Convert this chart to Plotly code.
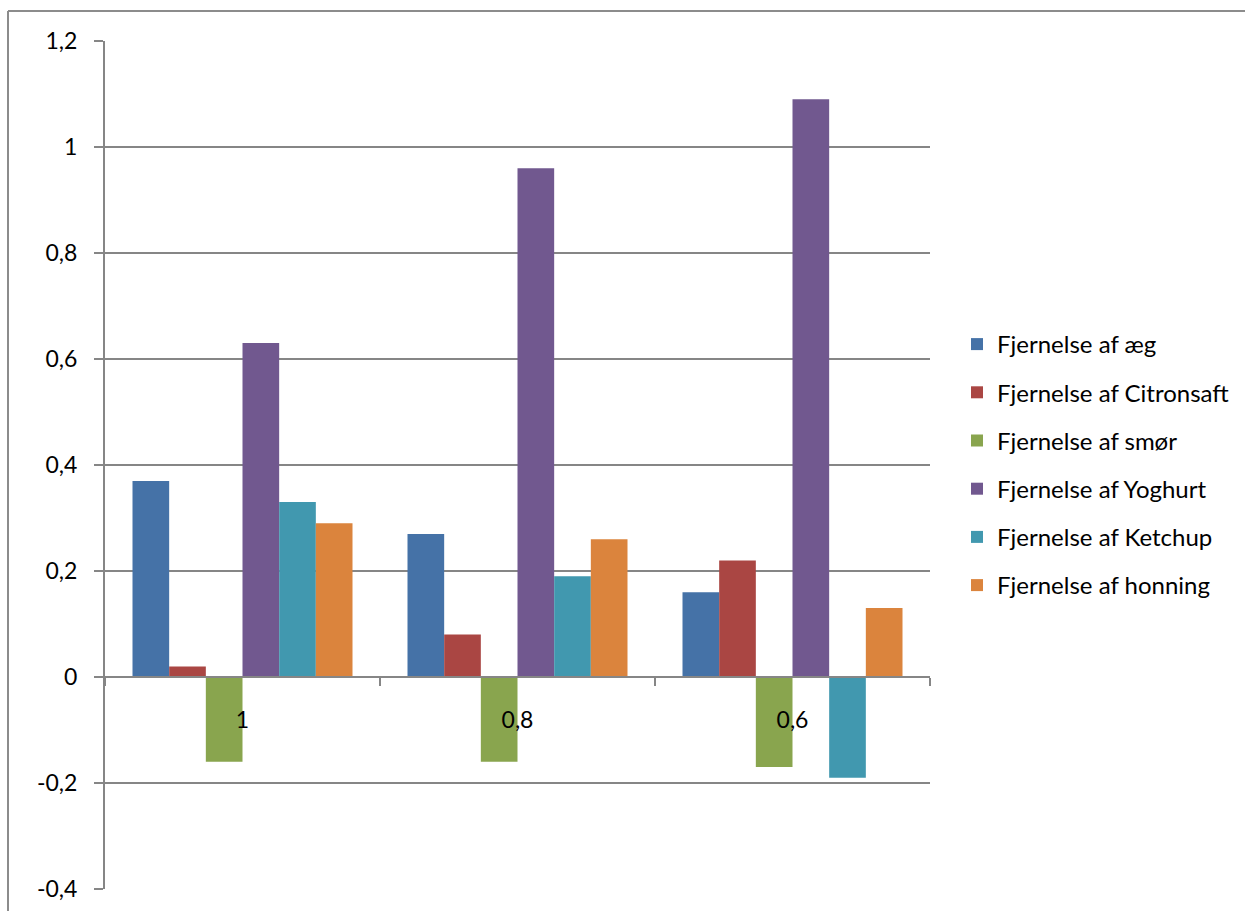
import plotly.graph_objects as go

categories = ["1", "0,8", "0,6"]
series_names = ["Fjernelse af æg", "Fjernelse af Citronsaft", "Fjernelse af smør",
                "Fjernelse af Yoghurt", "Fjernelse af Ketchup", "Fjernelse af honning"]
aeg = [0.37, 0.27, 0.16]
citronsaft = [0.02, 0.08, 0.22]
smoer = [-0.16, -0.16, -0.17]
yoghurt = [0.63, 0.96, 1.09]
ketchup = [0.33, 0.19, -0.19]
honning = [0.29, 0.26, 0.13]
series_values = [aeg, citronsaft, smoer, yoghurt, ketchup, honning]
colors = ["#4572A7", "#AA4643", "#89A54E", "#71588F", "#4198AF", "#DB843D"]

y_tickvals = [-0.4, -0.2, 0, 0.2, 0.4, 0.6, 0.8, 1, 1.2]
y_ticktext = ["-0,4", "-0,2", "0", "0,2", "0,4", "0,6", "0,8", "1", "1,2"]

W, H = 1245, 911
L, R, T, B = 105, 930, 41, 889
pw, ph = R - L, B - T
FS = 23

fig = go.Figure()
for i, (name, vals, c) in enumerate(zip(series_names, series_values, colors)):
    fig.add_trace(go.Bar(x=categories, y=vals, name=name, marker_color=c,
                         marker_line_width=0, legendgroup=f"g{i}"))

ymin, ymax = -0.4, 1.2
zero_frac = (0 - ymin) / (ymax - ymin)

fig.update_layout(
    width=W, height=H,
    margin=dict(l=L, r=W - R, t=T, b=H - B, pad=0, autoexpand=False),
    paper_bgcolor="white", plot_bgcolor="white",
    font=dict(family="Lato, Carlito, sans-serif", size=FS, color="black"),
    barmode="group", bargap=0.2, bargroupgap=0,
    showlegend=True,
    legend=dict(x=(957 - L) / pw, xanchor="left", y=0.5, yanchor="middle",
                traceorder="grouped", tracegroupgap=14,
                font=dict(size=24, color="black"), bgcolor="rgba(0,0,0,0)"),
    xaxis=dict(type="category", anchor="free", position=zero_frac,
               automargin=False,
               showline=True, linecolor="#868686", linewidth=2,
               ticks="outside", tickson="boundaries", ticklen=8, tickwidth=2,
               tickcolor="#868686", showgrid=False, ticklabelstandoff=22,
               tickfont=dict(size=FS, color="black")),
    yaxis=dict(range=[ymin, ymax], tickvals=y_tickvals, ticktext=y_ticktext,
               automargin=False,
               showline=True, linecolor="#868686", linewidth=2,
               showgrid=True, gridcolor="#868686", gridwidth=1.5,
               zeroline=False, ticks="outside", ticklen=9, tickwidth=1.5,
               tickcolor="#868686", ticklabelstandoff=12,
               tickfont=dict(size=FS, color="black")),
    shapes=[
        dict(type="line", xref="paper", yref="paper",
             x0=(8 - L) / pw, x1=(W + 20 - L) / pw,
             y0=(B - 11) / ph, y1=(B - 11) / ph,
             line=dict(color="#8c8c8c", width=2)),
        dict(type="line", xref="paper", yref="paper",
             x0=(8 - L) / pw, x1=(8 - L) / pw,
             y0=(B - 11) / ph, y1=(B - H - 20) / ph,
             line=dict(color="#8c8c8c", width=2)),
    ],
)

fig.write_html("out.html")
